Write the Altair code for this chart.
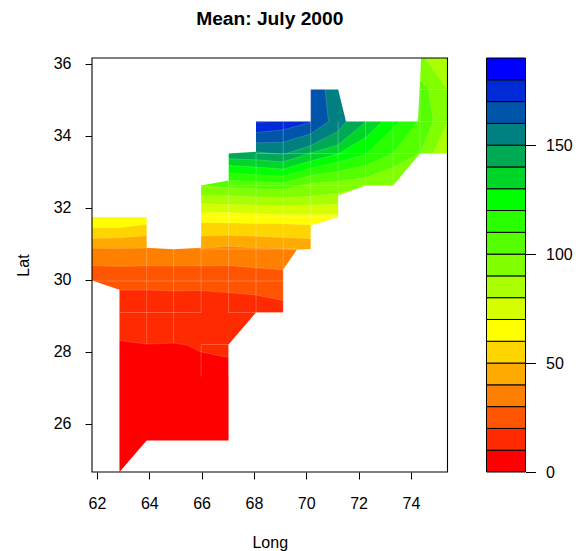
import altair as alt
import pandas as pd

LON_DOMAIN = [61.81, 75.40]
LAT_DOMAIN = [24.653, 36.153]
TOP = 36.153
E = 75.40
W = 61.81

# Colour levels
LEVELS = list(range(0, 190, 10))
COLORS = ["#FF0000", "#FF2A00", "#FF5500", "#FF8000", "#FFAA00", "#FFD500", "#FFFF00",
          "#D5FF00", "#AAFF00", "#80FF00", "#55FF00", "#2AFF00", "#00FF00", "#00D52A",
          "#00AA55", "#008080", "#0055AA", "#002AD5", "#0000FF"]

# Region z >= level: (longitudes, latitudes)
BANDS = {
    0: ([W, E, E, W], [24.653, 24.653, TOP, TOP]),
    10: ([W, 62.86, 63.90, 64.93, 65.44, 65.98, 67.03, E, E, W],
         [28.306, 28.306, 28.208, 28.236, 28.181, 27.986, 27.833, 27.833, TOP, TOP]),
    20: ([W, 62.86, 63.90, 64.93, 65.98, 67.03, 68.08, 69.12, E, E, W],
         [29.70, 29.708, 29.708, 29.681, 29.694, 29.639, 29.569, 29.417, 29.417, TOP, TOP]),
    30: ([W, 62.86, 63.90, 64.93, 65.98, 67.03, 68.08, 69.12, E, E, W],
         [30.389, 30.361, 30.381, 30.381, 30.375, 30.389, 30.325, 30.269, 30.269, TOP, TOP]),
    40: ([W, 62.86, 63.90, 64.93, 65.98, 67.03, 68.08, 69.12, 69.64, E, E, W],
         [30.869, 30.861, 30.875, 30.90, 30.869, 30.917, 30.875, 30.853, 30.833, 30.833, TOP, TOP]),
    50: ([W, 62.86, 63.90, 65.98, 67.03, 68.08, 69.12, 70.17, E, E, W],
         [31.139, 31.158, 31.214, 31.208, 31.231, 31.203, 31.167, 31.131, 31.131, TOP, TOP]),
    60: ([W, 62.86, 63.90, 65.98, 67.03, 68.08, 69.12, 70.17, E, E, W],
         [31.436, 31.436, 31.536, 31.583, 31.569, 31.556, 31.547, 31.514, 31.514, TOP, TOP]),
    70: ([65.98, 67.03, 68.08, 69.12, 70.17, 71.22, E, E, 65.98],
         [31.853, 31.861, 31.825, 31.806, 31.806, 31.806, 31.806, TOP, TOP]),
    80: ([65.98, 67.03, 68.08, 69.12, 70.17, 71.22, E, E, 65.98],
         [32.103, 32.083, 32.064, 32.042, 32.069, 32.083, 32.083, TOP, TOP]),
    90: ([65.98, 67.03, 68.08, 69.12, 70.17, 71.22, 72.27, 73.32, 74.86, E, E, 74.54, 65.98],
         [32.333, 32.325, 32.292, 32.278, 32.311, 32.389, 32.583, 32.583, 33.5, 34.369, 35.278, TOP, TOP]),
    100: ([65.98, 67.03, 68.08, 69.12, 70.17, 71.22, 72.27, 73.32, 74.35, 74.86, 74.67, 74.38, 65.98],
          [32.611, 32.556, 32.519, 32.5, 32.667, 32.722, 32.833, 33.119, 33.5, 34.389, 35.278, 35.528, TOP]),
    110: ([67.03, 68.08, 69.12, 70.17, 71.22, 72.27, 73.32, 74.27, 74.27, 67.03],
          [32.75, 32.722, 32.681, 32.889, 33.0, 33.167, 33.5, 34.389, TOP, TOP]),
    120: ([67.03, 68.08, 69.12, 70.17, 71.22, 72.27, 73.32, 73.56, 73.56, 67.03],
          [32.953, 32.908, 32.869, 33.092, 33.258, 33.472, 34.194, 34.389, TOP, TOP]),
    130: ([67.03, 68.08, 69.12, 70.17, 71.22, 72.27, 72.89, 72.89, 67.03],
          [33.167, 33.125, 33.069, 33.292, 33.492, 33.944, 34.389, TOP, TOP]),
    140: ([67.03, 68.08, 69.12, 70.17, 71.22, 72.29, 72.29, 67.03],
          [33.353, 33.325, 33.269, 33.514, 33.742, 34.389, TOP, TOP]),
    150: ([68.08, 69.12, 70.17, 71.22, 71.52, 71.52, 68.08],
          [33.547, 33.472, 33.722, 34.119, 34.389, TOP, TOP]),
    160: ([68.08, 69.12, 70.17, 70.85, 70.72, 70.72, 68.08],
          [33.797, 33.814, 34.047, 34.389, 35.278, TOP, TOP]),
    170: ([68.08, 69.12, 70.17, 70.17, 68.08],
          [34.083, 34.158, 34.369, TOP, TOP]),
    180: ([68.08, 68.54, 68.54, 68.08],
          [34.361, 34.389, TOP, TOP]),
}

# Outside of the gridded area (blank in the reference)
BLANK_UPPER = ([W, 63.90, 63.90, 64.93, 65.98, 65.98, 67.03, 67.03, 68.08, 68.08, 70.17, 70.17, 71.22, 71.52, 74.27, 74.39, W],
               [31.736, 31.736, 30.881, 30.842, 30.881, 32.611, 32.75, 33.5, 33.547, 34.389, 34.389, 35.278, 35.278, 34.389, 34.389, TOP, TOP])
BLANK_LOWER = ([E, 74.35, 73.32, 72.27, 71.22, 71.22, 70.17, 70.17, 69.64, 69.12, 69.12, 68.08, 67.03, 67.03, 63.90, 62.86, 62.86, W, W, E],
               [33.5, 33.5, 32.611, 32.611, 32.333, 31.736, 31.5, 30.847, 30.825, 30.278, 29.083, 29.083, 28.194, 25.528, 25.528, 24.653, 29.714, 29.972, 24.653, 24.653])

# Faint cell seams: (lon, lat from, lat to) and (lat, lon from, lon to)
V_SEAMS = [(63.90, 30.85, 28.21), (64.93, 30.85, 28.23), (65.98, 30.87, 29.083), (65.98, 28.19, 27.306),
           (65.98, 32.3, 31.0), (67.03, 33.5, 29.083), (67.03, 28.19, 27.306), (68.08, 33.5, 29.083),
           (69.12, 34.389, 29.083), (70.17, 34.389, 31.5), (71.22, 34.389, 32.33), (72.27, 34.389, 32.611),
           (73.32, 34.389, 32.611), (74.35, TOP, 33.5)]
H_SEAMS = [(29.958, W, 69.12), (29.083, 62.86, 65.98), (29.083, 67.03, 69.12), (28.194, 65.98, 67.03),
           (30.847, 65.98, 69.64), (31.736, 65.98, 71.22), (32.611, 67.03, 72.27), (33.5, 68.08, 74.35),
           (34.389, 74.35, E), (35.278, 74.35, E)]

X_TICKS = [62, 64, 66, 68, 70, 72, 74]
Y_TICKS = [26, 28, 30, 32, 34, 36]
BAR_TICKS = [0, 50, 100, 150]
BAR_TOP = 190
PLOT_W, PLOT_H = 355.5, 414

x_scale = alt.Scale(domain=LON_DOMAIN, nice=False, zero=False)
y_scale = alt.Scale(domain=LAT_DOMAIN, nice=False, zero=False)
FONT = "Liberation Sans"

common = dict(grid=False, domain=False, tickSize=7, tickColor="black", tickWidth=1, labelFontSize=16,
              labelColor="black", labelFont=FONT, titleFont=FONT, titleFontSize=16,
              titleFontWeight="normal", titleColor="black")
x_axis = alt.Axis(values=X_TICKS, labelPadding=16.5, titlePadding=23, labelAngle=0, **common)
y_axis = alt.Axis(values=Y_TICKS, labelPadding=14, titlePadding=22, **common)


def X(field):
    return alt.X(field, type="quantitative", scale=x_scale, title="Long", axis=x_axis)


def Y(field):
    return alt.Y(field, type="quantitative", scale=y_scale, title="Lat", axis=y_axis)


def polygon(lons, lats, color, stroke=True):
    df = pd.DataFrame({"lon": lons, "lat": lats, "i": range(len(lons))})
    kw = dict(filled=True, fill=color, clip=True)
    if stroke:
        kw.update(stroke="white", strokeOpacity=0.22, strokeWidth=0.7)
    else:
        kw.update(strokeWidth=0)
    return alt.Chart(df).mark_line(**kw).encode(x=X("lon"), y=Y("lat"), order="i:Q")


layers = []
for level, color in zip(LEVELS, COLORS):
    lons, lats = BANDS[level]
    layers.append(polygon(lons, lats, color))

v_df = pd.DataFrame(V_SEAMS, columns=["lon", "a", "b"])
h_df = pd.DataFrame(H_SEAMS, columns=["lat", "a", "b"])
layers.append(alt.Chart(v_df).mark_rule(color="white", opacity=0.3, strokeWidth=0.8).encode(
    x=X("lon"), y=Y("a"), y2="b:Q"))
layers.append(alt.Chart(h_df).mark_rule(color="white", opacity=0.3, strokeWidth=0.8).encode(
    y=Y("lat"), x=X("a"), x2="b:Q"))

layers.append(polygon(*BLANK_UPPER, "white", stroke=False))
layers.append(polygon(*BLANK_LOWER, "white", stroke=False))

frame = alt.Chart(pd.DataFrame({"f": [0]})).mark_rect(filled=False, stroke="black", strokeWidth=1.1).encode(
    x=alt.value(0), x2=alt.value(PLOT_W), y=alt.value(0), y2=alt.value(PLOT_H))
layers.append(frame)

plot = alt.layer(*layers).properties(
    width=PLOT_W, height=PLOT_H,
    title=alt.TitleParams("Mean: July 2000", font=FONT, fontSize=19.2, fontWeight="bold",
                          color="black", anchor="middle", offset=26),
)

bar_df = pd.DataFrame({"lo": LEVELS, "hi": [v + 10 for v in LEVELS], "c": COLORS})
bar = alt.Chart(bar_df).mark_rect(stroke="black", strokeWidth=1).encode(
    x=alt.value(0), x2=alt.value(39),
    y=alt.Y("lo:Q", scale=alt.Scale(domain=[0, BAR_TOP], nice=False, zero=False),
            axis=alt.Axis(orient="right", values=BAR_TICKS, title=None, grid=False, domain=False,
                          tickSize=10, tickColor="black", tickWidth=1, labelPadding=10, labelFontSize=16,
                          labelColor="black", labelFont=FONT)),
    y2="hi:Q",
    color=alt.Color("c:N", scale=None, legend=None),
).properties(width=39, height=PLOT_H)

chart = alt.hconcat(plot, bar, spacing=36.5).properties(
    padding={"left": 7, "top": 2, "right": 0, "bottom": 0}
).configure_view(stroke=None)

chart.save("out.html", embed_options={"renderer": "svg", "actions": False})
